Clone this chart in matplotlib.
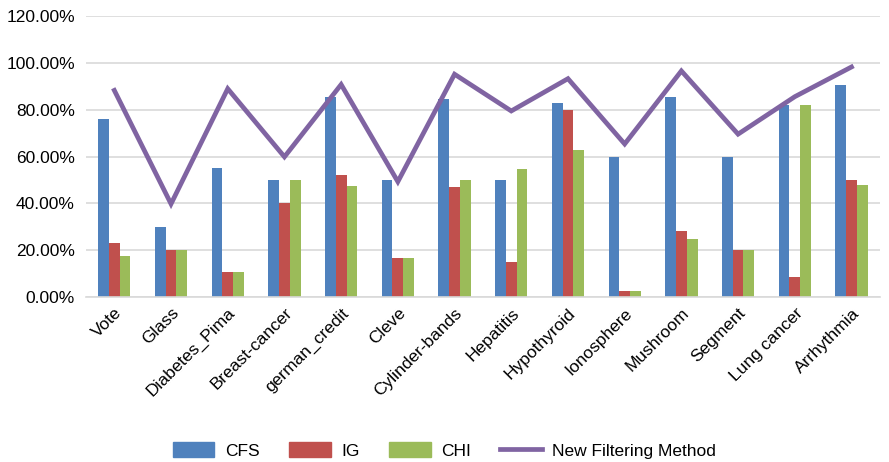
import matplotlib
matplotlib.use("Agg")
import matplotlib.pyplot as plt
import numpy as np
from matplotlib.ticker import FuncFormatter, MultipleLocator
from matplotlib.lines import Line2D
from matplotlib.patches import Patch

datasets = ["Vote", "Glass", "Diabetes_Pima", "Breast-cancer", "german_credit", "Cleve",
            "Cylinder-bands", "Hepatitis", "Hypothyroid", "Ionosphere", "Mushroom",
            "Segment", "Lung cancer", "Arrhythmia"]
cfs = [76.2, 30.0, 55.3, 50.0, 85.5, 50.0, 84.8, 50.0, 83.1, 60.0, 85.5, 60.0, 82.2, 90.5]
ig = [23.3, 20.0, 10.8, 40.0, 52.0, 16.5, 47.0, 14.8, 79.8, 2.5, 28.2, 20.0, 8.6, 50.0]
chi = [17.5, 20.0, 10.8, 50.0, 47.3, 16.5, 50.0, 54.8, 63.0, 2.5, 24.8, 20.0, 82.2, 47.9]
new_method = [88.3, 39.8, 89.0, 59.9, 90.8, 49.3, 95.2, 79.5, 93.3, 65.4, 96.6, 69.6, 85.6, 98.3]

c_cfs, c_ig, c_chi, c_new = "#4F81BD", "#C0504D", "#9BBB59", "#8064A2"

plt.rcParams["font.family"] = ["Liberation Sans", "DejaVu Sans"]

fig = plt.figure(figsize=(8.89, 4.62), dpi=100)
ax = fig.add_axes([0.0967, 0.357, 0.893, 0.608])

x = np.arange(len(datasets))
w = 0.19
ax.bar(x - w, cfs, w, color=c_cfs, zorder=2)
ax.bar(x, ig, w, color=c_ig, zorder=2)
ax.bar(x + w, chi, w, color=c_chi, zorder=2)
ax.plot(x, new_method, color=c_new, lw=3.4, zorder=3, solid_joinstyle="miter")

ax.set_xlim(-0.5, len(datasets) - 0.5)
ax.set_ylim(0, 120)
ax.yaxis.set_major_locator(MultipleLocator(20))
ax.yaxis.set_major_formatter(FuncFormatter(lambda v, p: f"{v:.2f}%"))
ax.grid(axis="y", color="#D9D9D9", lw=1.2, zorder=0)
for s in ["top", "right", "left"]:
    ax.spines[s].set_visible(False)
ax.spines["bottom"].set_color("#D9D9D9")
ax.spines["bottom"].set_linewidth(1.2)
ax.tick_params(axis="both", length=0, labelsize=12.5, colors="black")
ax.tick_params(axis="y", pad=8)
ax.tick_params(axis="x", pad=6)
ax.set_xticks(x)
ax.set_xticklabels(datasets, rotation=45, ha="right", rotation_mode="anchor")

handles = [Patch(color=c_cfs, label="CFS"), Patch(color=c_ig, label="IG"),
           Patch(color=c_chi, label="CHI"),
           Line2D([0], [0], color=c_new, lw=3.4, label="New Filtering Method")]
fig.legend(handles=handles, loc="center", bbox_to_anchor=(0.5, 0.025), ncol=4,
           frameon=False, fontsize=12.5, handlelength=2.4, handletextpad=0.6,
           columnspacing=1.7, handleheight=0.9)

fig.savefig("out.png", dpi=100)
